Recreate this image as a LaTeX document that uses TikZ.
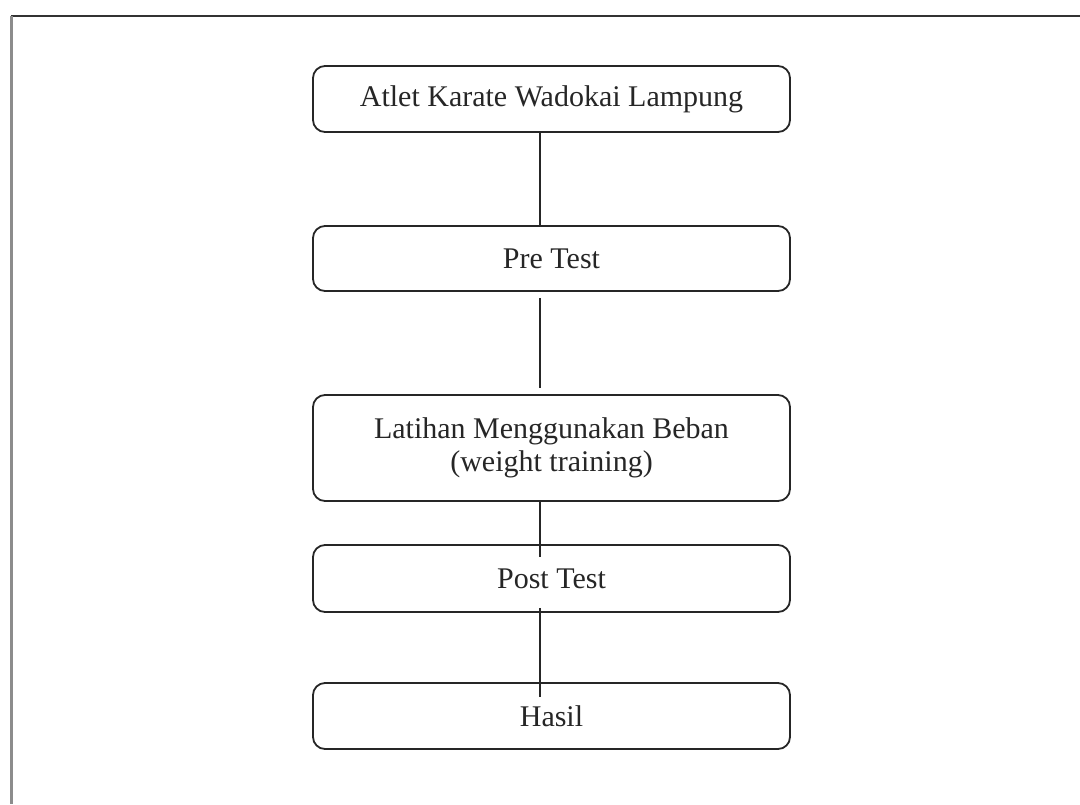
\documentclass[tikz,border=0pt]{standalone}
\usepackage{fontspec}
\setmainfont{Liberation Serif}
\begin{document}
\begin{tikzpicture}[x=1pt,y=-1pt,
  stepbox/.style={draw=black!85, line width=1.8pt, rounded corners=12pt, minimum width=477pt, inner sep=0pt, align=center, font=\fontsize{30}{33}\selectfont, text=black!85},
  link/.style={draw=black!85, line width=1.8pt}]
\useasboundingbox (0,0) rectangle (1080,804);
% outer frame (top and left edges visible)
\draw[black!80, line width=2.5pt] (11,16) -- (1080,16);
\draw[black!45, line width=3pt] (11,16) -- (11,804);
\node[stepbox, minimum height=66pt] (a) at (551.5,99) {Atlet Karate Wadokai Lampung};
\node[stepbox, minimum height=65pt] (b) at (551.5,258.5) {Pre Test};
\node[stepbox, minimum height=106pt] (c) at (551.5,448) {Latihan Menggunakan Beban\\(weight training)};
\node[stepbox, minimum height=67pt] (d) at (551.5,578.5) {Post Test};
\node[stepbox, minimum height=66pt] (e) at (551.5,716) {Hasil};
\coordinate (xl) at (540,0);
\draw[link] (a.south -| xl) -- (b.north -| xl);
\draw[link] ([yshift=-6pt]b.south -| xl) -- ([yshift=6pt]c.north -| xl);
\draw[link] (c.south -| xl) -- ([yshift=-13pt]d.north -| xl);
\draw[link] ([yshift=5pt]d.south -| xl) -- ([yshift=-15pt]e.north -| xl);
\end{tikzpicture}
\end{document}
